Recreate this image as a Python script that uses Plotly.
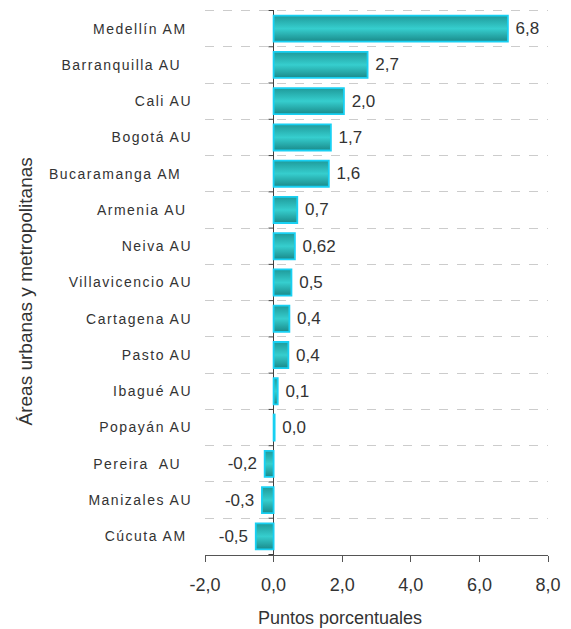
import plotly.graph_objects as go

categories = ["Medellín AM\u00a0", "Barranquilla AU\u00a0\u00a0", "Cali AU", "Bogotá AU", "Bucaramanga AM\u00a0\u00a0",
              "Armenia AU\u00a0", "Neiva AU", "Villavicencio AU", "Cartagena AU", "Pasto AU",
              "Ibagué AU", "Popayán AU", "Pereira  AU\u00a0\u00a0", "Manizales AU", "Cúcuta AM\u00a0"]
values = [6.83, 2.74, 2.05, 1.67, 1.61, 0.69, 0.62, 0.52, 0.46, 0.43, 0.12, 0.03, -0.26, -0.34, -0.52]
value_labels = ["6,8", "2,7", "2,0", "1,7", "1,6", "0,7", "0,62", "0,5", "0,4", "0,4", "0,1", "0,0", "-0,2", "-0,3", "-0,5"]
x_ticks = [-2, 0, 2, 4, 6, 8]
x_tick_labels = ["-2,0", "0,0", "2,0", "4,0", "6,0", "8,0"]

# pad labels away from bar ends with a non-breaking space
padded = [("\u00a0" + t) if v >= 0 else (t + "\u00a0") for t, v in zip(value_labels, values)]

FONT = "Liberation Sans, Arial, sans-serif"

fig = go.Figure()
fig.add_trace(go.Bar(
    y=categories, x=values, orientation="h",
    text=padded, textposition="outside", cliponaxis=False,
    textfont=dict(family=FONT, size=17, color="#333333"),
    marker=dict(color="#2ab6b6", line=dict(color="#18d0f2", width=1.8)),
    width=0.72,
))

# small tick marks on the vertical axis at category boundaries
for i in range(len(categories) + 1):
    fig.add_shape(type="line", xref="x", yref="y", x0=-0.15, x1=0, y0=i - 0.5, y1=i - 0.5,
                  line=dict(color="#404040", width=1))
# top dashed boundary line
fig.add_shape(type="line", xref="paper", yref="y", x0=0, x1=1, y0=-0.5, y1=-0.5,
              line=dict(color="#cccccc", width=1, dash="dash"), layer="below")

fig.update_layout(
    width=571, height=629,
    margin=dict(l=205, r=19, t=10, b=74),
    plot_bgcolor="white", paper_bgcolor="white",
    showlegend=False,
    font=dict(family=FONT, color="#333333"),
    xaxis=dict(range=[-2, 8], tickvals=x_ticks, ticktext=x_tick_labels,
               showgrid=False, zeroline=True, zerolinecolor="#404040", zerolinewidth=1,
               showline=True, linecolor="#555555", linewidth=1,
               ticks="outside", ticklen=6, tickcolor="#555555", ticklabelstandoff=7,
               tickfont=dict(size=18, color="#333333")),
    yaxis=dict(autorange="reversed", tickson="boundaries", showgrid=True,
               gridcolor="#cccccc", griddash="dash", gridwidth=1,
               ticks="", showline=False, ticklabelstandoff=12,
               tickfont=dict(size=14, color="#333333")),
    annotations=[
        dict(text="Puntos porcentuales", xref="paper", yref="paper", x=0.395, y=-0.1156,
             xanchor="center", yanchor="middle", showarrow=False,
             font=dict(size=18, color="#333333")),
        dict(text="Áreas urbanas y metropolitanas", xref="paper", yref="paper", x=-0.524, y=0.484,
             xanchor="center", yanchor="middle", textangle=-90, showarrow=False,
             font=dict(size=19, color="#333333")),
    ],
)

js = """
document.body.style.margin='0';
var gd = document.getElementById('{plot_id}');
gd.querySelectorAll('.ytick text').forEach(function(t){t.style.letterSpacing='1.5px';});
var svg = gd.querySelector('svg.main-svg');
var NS = 'http://www.w3.org/2000/svg';
var defs = document.createElementNS(NS, 'defs');
var lg = document.createElementNS(NS, 'linearGradient');
lg.setAttribute('id', 'bargrad'); lg.setAttribute('x1', '0'); lg.setAttribute('y1', '0');
lg.setAttribute('x2', '0'); lg.setAttribute('y2', '1');
[['0', '#1f9a9a'], ['0.5', '#36cece'], ['1', '#1a8a8a']].forEach(function(s){
  var st = document.createElementNS(NS, 'stop');
  st.setAttribute('offset', s[0]); st.setAttribute('stop-color', s[1]); lg.appendChild(st);
});
defs.appendChild(lg); svg.insertBefore(defs, svg.firstChild);
gd.querySelectorAll('.bars .point path').forEach(function(p){p.style.fill='url(#bargrad)';});
"""
fig.write_html("out.html", post_script=js, config={"displayModeBar": False})
